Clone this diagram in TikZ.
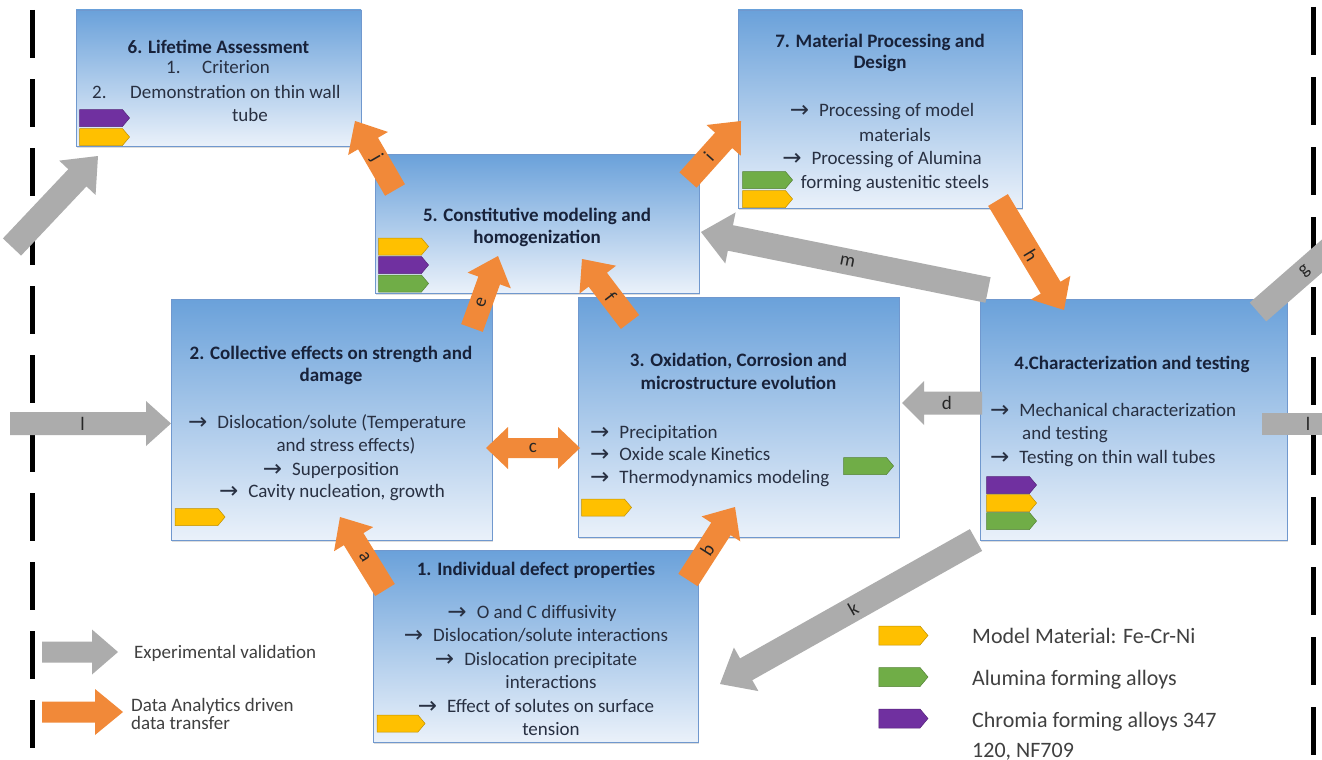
\documentclass[tikz,border=0pt]{standalone}
\usepackage{fontspec}
\setmainfont{Carlito}
\newfontfamily\arfont{DejaVu Sans}
\usetikzlibrary{calc,shapes.symbols,shadows}

\definecolor{boxtop}{RGB}{106,161,218}
\definecolor{boxbot}{RGB}{234,241,250}
\definecolor{boxedge}{RGB}{112,152,206}
\definecolor{flow}{RGB}{241,137,57}
\definecolor{valid}{RGB}{172,172,172}
\definecolor{tagY}{RGB}{255,192,0}
\definecolor{tagG}{RGB}{112,173,71}
\definecolor{tagP}{RGB}{112,48,160}
\definecolor{ttlcol}{RGB}{24,34,58}
\definecolor{bdycol}{RGB}{40,48,66}
\definecolor{lgcol}{RGB}{64,64,64}

% bullet arrow in front of list items
\newcommand\itm{\raisebox{-1.5pt}{\arfont\fontsize{23}{23}\selectfont\symbol{"2192}}\hspace{10pt}}

\pgfkeys{/blk/.cd,
  bw/.store in=\blkbw, hw/.store in=\blkhw, hl/.store in=\blkhl}
% block arrow from tail coordinate #3 to tip coordinate #4, filled with #2
\newcommand\blockarrow[4][]{%
  \pgfkeys{/blk/.cd, bw=11.5pt, hw=23pt, hl=26pt, #1}%
  \coordinate (#4-h) at ($(#4)!\blkhl!(#3)$);
  \fill[#2] ($(#3)!\blkbw!90:(#4)$) -- ($(#4-h)!\blkbw!-90:(#3)$)
     -- ($(#4-h)!\blkhw!-90:(#3)$) -- (#4) -- ($(#4-h)!\blkhw!90:(#3)$)
     -- ($(#4-h)!\blkbw!90:(#3)$) -- ($(#3)!\blkbw!-90:(#4)$) -- cycle;
}

\begin{document}
\begin{tikzpicture}[x=1pt,y=-1pt,
  box/.style={draw=boxedge, line width=0.8pt, top color=boxtop, bottom color=boxbot,
    inner sep=0, outer sep=0,
    drop shadow={shadow xshift=1.2pt, shadow yshift=-1.5pt, opacity=.22, fill=black!60}},
  alloytag/.style={signal, signal to=east, signal pointer angle=100,
    minimum width=50pt, minimum height=17pt, inner sep=0, outer sep=0,
    fill=#1, draw=#1!75!black, line width=0.5pt},
  ttl/.style={font=\bfseries\fontsize{19}{23}\selectfont, text=ttlcol, inner sep=0, anchor=base},
  bdy/.style={font=\fontsize{19}{23}\selectfont, text=bdycol, inner sep=0, anchor=base},
  bdyw/.style={bdy, anchor=base west},
  lbl/.style={font=\fontsize{19}{19}\selectfont, text=black!85, inner sep=0},
  lgL/.style={font=\fontsize{19}{19}\selectfont, text=lgcol, inner sep=0, anchor=base west},
  lgR/.style={font=\fontsize{22}{22}\selectfont, text=lgcol, inner sep=0, anchor=base west},
  band/.style={line width=#1, line cap=butt},
]
\useasboundingbox (0,0) rectangle (1322,760);
\fill[white] (0,0) rectangle (1322,760);

% wrap-around borders
\draw[line width=5pt, dash pattern=on 48pt off 21pt] (32,10) -- (32,760);
\draw[line width=5pt, dash pattern=on 48pt off 22pt] (1313,7) -- (1313,760);

% work packages
\node[box, minimum width=285pt, minimum height=136pt] (b6) at (218.5,78) {};
\node[box, minimum width=284pt, minimum height=198pt] (b7) at (880,109) {};
\node[box, minimum width=324pt, minimum height=139pt] (b5) at (537,223.5) {};
\node[box, minimum width=321pt, minimum height=241pt] (b2) at (331.5,419.5) {};
\node[box, minimum width=321pt, minimum height=240pt] (b3) at (738.5,417) {};
\node[box, minimum width=307pt, minimum height=241pt] (b4) at (1133.5,419.5) {};
\node[box, minimum width=325pt, minimum height=192pt] (b1) at (535.5,646) {};

% alloy tags
\node[alloytag=tagP] (t6p) at (101,118) {};
\node[alloytag=tagY] (t6y) at (101,137) {};
\node[alloytag=tagG] (t7g) at (764,180) {};
\node[alloytag=tagY] (t7y) at (764,199) {};
\node[alloytag=tagY] (t5y) at (400,246.5) {};
\node[alloytag=tagP] (t5p) at (400,265) {};
\node[alloytag=tagG] (t5g) at (400,283.5) {};
\node[alloytag=tagY] (t2y) at (196.5,517) {};
\node[alloytag=tagY] (t3y) at (603,507.5) {};
\node[alloytag=tagG] (t3g) at (865,466) {};
\node[alloytag=tagP] (t4p) at (1008,485) {};
\node[alloytag=tagY] (t4y) at (1008,503) {};
\node[alloytag=tagG] (t4g) at (1008,521) {};
\node[alloytag=tagY, minimum width=48pt] (t1y) at (397.5,723.5) {};

% texts of package 6
\node[ttl] (b6t) at (218.5,53) {6. Lifetime Assessment};
\node[bdyw] (b6n1) at (166,74) {1.};
\node[bdyw] (b6l1) at (202,74) {Criterion};
\node[bdyw] (b6n2) at (92,98) {2.};
\node[bdyw] (b6l2) at (130,98) {Demonstration on thin wall};
\node[bdy] (b6l3) at (250,121) {tube};

% texts of package 7
\node[ttl] (b7t1) at (880,48) {7. Material Processing and};
\node[ttl] (b7t2) at (880,69) {Design};
\node[bdy] (b7l1) at (882,116) {\itm Processing of model};
\node[bdy] (b7l2) at (895,141) {materials};
\node[bdy] (b7l3) at (882,164) {\itm Processing of Alumina};
\node[bdy] (b7l4) at (895,188) {forming austenitic steels};

% texts of package 5
\node[ttl] (b5t1) at (537,221) {5. Constitutive modeling and};
\node[ttl] (b5t2) at (537,243) {homogenization};

% texts of package 2
\node[ttl] (b2t1) at (331,359) {2. Collective effects on strength and};
\node[ttl] (b2t2) at (331,381) {damage};
\node[bdyw] (b2l1) at (188,428) {\itm Dislocation/solute (Temperature};
\node[bdy] (b2l2) at (346,451) {and stress effects)};
\node[bdy] (b2l3) at (331,475) {\itm Superposition};
\node[bdy] (b2l4) at (332,497) {\itm Cavity nucleation, growth};

% texts of package 3
\node[ttl] (b3t1) at (738.5,366) {3. Oxidation, Corrosion and};
\node[ttl] (b3t2) at (738.5,389) {microstructure evolution};
\node[bdyw] (b3l1) at (590,438) {\itm Precipitation};
\node[bdyw] (b3l2) at (590,460) {\itm Oxide scale Kinetics};
\node[bdyw] (b3l3) at (590,483) {\itm Thermodynamics modeling};

% texts of package 4
\node[ttl] (b4t) at (1132,369) {4.Characterization and testing};
\node[bdyw] (b4l1) at (990,416) {\itm Mechanical characterization};
\node[bdyw] (b4l2) at (1022,439) {and testing};
\node[bdyw] (b4l3) at (990,463) {\itm Testing on thin wall tubes};

% texts of package 1
\node[ttl] (b1t) at (536,575) {1. Individual defect properties};
\node[bdy] (b1l1) at (532,618) {\itm O and C diffusivity};
\node[bdy] (b1l2) at (536,641) {\itm Dislocation/solute interactions};
\node[bdy] (b1l3) at (536,665) {\itm Dislocation precipitate};
\node[bdy] (b1l4) at (551,688) {interactions};
\node[bdy] (b1l5) at (536,712) {\itm Effect of solutes on surface};
\node[bdy] (b1l6) at (551,735) {tension};

% data analytics driven transfers
\coordinate (aA) at (385,590); \coordinate (aB) at (340,517);
\blockarrow{flow}{aA}{aB}
\path (aA) -- (aB) node[lbl, sloped, pos=.45] (la) {a};

\coordinate (bA) at (688,580); \coordinate (bB) at (735,507);
\blockarrow{flow}{bA}{bB}
\path (bA) -- (bB) node[lbl, sloped, pos=.41] (lb) {b};

\coordinate (eA) at (472,328); \coordinate (eB) at (498,256);
\blockarrow{flow}{eA}{eB}
\path (eA) -- (eB) node[lbl, sloped, pos=.35] (le) {e};

\coordinate (fA) at (630,322); \coordinate (fB) at (582,259);
\blockarrow{flow}{fA}{fB}
\path (fA) -- (fB) node[lbl, sloped, pos=.4] (lf) {f};

\coordinate (jA) at (395,190); \coordinate (jB) at (355,121);
\blockarrow{flow}{jA}{jB}
\path (jA) -- (jB) node[lbl, sloped, pos=.46] (lj) {j};

\coordinate (iA) at (688,180); \coordinate (iB) at (741,121);
\blockarrow{flow}{iA}{iB}
\path (iA) -- (iB) node[lbl, sloped, pos=.39] (li) {i};

\coordinate (hA) at (998,200); \coordinate (hB) at (1064,310);
\blockarrow{flow}{hA}{hB}
\path (hA) -- (hB) node[lbl, sloped, pos=.5] (lh) {h};

% two-way transfer between packages 2 and 3
\coordinate (cA) at (486,448); \coordinate (cB) at (580,448);
\coordinate (cB-h) at ($(cB)!22pt!(cA)$);
\coordinate (cA-h) at ($(cA)!22pt!(cB)$);
\fill[flow] (cA) -- ($(cA-h)!21pt!90:(cB)$) -- ($(cA-h)!10pt!90:(cB)$)
  -- ($(cB-h)!10pt!-90:(cA)$) -- ($(cB-h)!21pt!-90:(cA)$) -- (cB)
  -- ($(cB-h)!21pt!90:(cA)$) -- ($(cB-h)!10pt!90:(cA)$)
  -- ($(cA-h)!10pt!-90:(cB)$) -- ($(cA-h)!21pt!-90:(cB)$) -- cycle;
\path (cA) -- (cB) node[lbl, pos=.5] (lc) {c};

% experimental validation
\coordinate (dA) at (982,403); \coordinate (dB) at (902,403);
\blockarrow[bw=11.5pt, hw=22pt, hl=22pt]{valid}{dA}{dB}
\path (dA) -- (dB) node[lbl, pos=.44] (ld) {d};

\coordinate (mA) at (988,290); \coordinate (mB) at (701,232);
\blockarrow[bw=13pt, hw=26pt, hl=30pt]{valid}{mA}{mB}
\path (mA) -- (mB) node[lbl, sloped, pos=.49] (lm) {m};

\coordinate (kA) at (976,540); \coordinate (kB) at (720,684);
\blockarrow[bw=12.5pt, hw=25pt, hl=30pt]{valid}{kA}{kB}
\path (kA) -- (kB) node[lbl, sloped, pos=.48] (lk) {k};

% links leaving at the right border and coming back at the left one
\coordinate (gA) at (1258,312); \coordinate (gB) at (1345,236);
\draw[valid, band=25pt] (gA) -- (gB);
\path (gA) -- (gB) node[lbl, sloped, pos=.54] (lg) {g};

\coordinate (gInA) at (12,247); \coordinate (gInB) at (98,156);
\blockarrow[bw=12.5pt, hw=25pt, hl=30pt]{valid}{gInA}{gInB}

\coordinate (lOutA) at (1262,424); \coordinate (lOutB) at (1322,424);
\draw[valid, band=22pt] (lOutA) -- (lOutB);
\node[lbl] (llr) at (1308,424) {l};

\coordinate (lInA) at (10,423.5); \coordinate (lInB) at (171,423.5);
\blockarrow[bw=11.5pt, hw=22.5pt, hl=25pt]{valid}{lInA}{lInB}
\path (lInA) -- (lInB) node[lbl, pos=.45] (lll) {l};

% legend
\coordinate (lvA) at (42,652); \coordinate (lvB) at (118,652);
\blockarrow[bw=10.5pt, hw=22.5pt, hl=26pt]{valid}{lvA}{lvB}
\node[lgL] (lvt) at (134,658) {Experimental validation};

\coordinate (ldA) at (42,712); \coordinate (ldB) at (123,712);
\blockarrow[bw=10.5pt, hw=23pt, hl=28pt]{flow}{ldA}{ldB}
\node[lgL] (ldt1) at (131,711) {Data Analytics driven};
\node[lgL] (ldt2) at (131,729) {data transfer};

\node[alloytag=tagY, minimum width=49pt, minimum height=19pt] (lgy) at (899.5,635.5) {};
\node[alloytag=tagG, minimum width=49pt, minimum height=19pt] (lgg) at (899.5,677) {};
\node[alloytag=tagP, minimum width=49pt, minimum height=19pt] (lgp) at (899.5,718.5) {};
\node[lgR] (lgyt) at (972,643) {Model Material: Fe-Cr-Ni};
\node[lgR] (lggt) at (972,685) {Alumina forming alloys};
\node[lgR] (lgpt1) at (972,727) {Chromia forming alloys 347};
\node[lgR] (lgpt2) at (972,757) {120, NF709};
\end{tikzpicture}
\end{document}
